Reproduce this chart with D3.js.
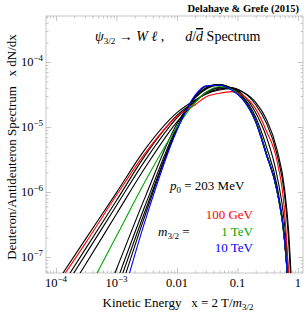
<!DOCTYPE html>
<html>
<head>
<meta charset="utf-8">
<script src="https://cdn.jsdelivr.net/npm/d3@7"></script>
<style>
  body { margin: 0; background: #fff; }
  text { font-family: "Liberation Serif", "DejaVu Serif", serif; white-space: pre; }
</style>
</head>
<body>
<div class="graph"></div>
<script>
const w = 307;
const h = 314;
const margin = {top: 16, right: 4, bottom: 41, left: 46};

const xs = [1e-4, 3e-4, 1e-3, 3e-3, 0.01, 0.02, 0.03, 0.05, 0.08, 0.12, 0.2, 0.3, 0.45, 0.6, 0.7, 0.8];

// x dN/dx for each gravitino mass
const red100GeV = [3.5e-8, 1.58e-7, 8.9e-7, 4.0e-6, 1.45e-5, 2.2e-5, 2.9e-5, 3.3e-5, 3.5e-5, 3.1e-5, 1.9e-5, 8.7e-6, 3.0e-6, 5.0e-7, 5.0e-8, 2.5e-9];
const black200GeV = [3.9e-8, 1.82e-7, 9.8e-7, 4.6e-6, 1.66e-5, 2.6e-5, 3.2e-5, 3.7e-5, 3.9e-5, 3.5e-5, 2.4e-5, 1.32e-5, 4.5e-6, 1.12e-6, 2.5e-7, 2.5e-8];
const black300GeV = [2.6e-8, 1.29e-7, 7.4e-7, 3.7e-6, 1.51e-5, 2.5e-5, 3.3e-5, 3.8e-5, 4.0e-5, 3.5e-5, 2.2e-5, 1.15e-5, 3.8e-6, 8.9e-7, 1.78e-7, 1.6e-8];
const black500GeV = [2.1e-8, 1.05e-7, 6.2e-7, 3.1e-6, 1.38e-5, 2.5e-5, 3.4e-5, 4.0e-5, 4.0e-5, 3.2e-5, 1.66e-5, 7.1e-6, 1.78e-6, 3.2e-7, 5.0e-8, 3.2e-9];
const black700GeV = [1.45e-8, 7.4e-8, 4.6e-7, 2.4e-6, 1.2e-5, 2.4e-5, 3.4e-5, 4.0e-5, 3.9e-5, 3.0e-5, 1.41e-5, 5.0e-6, 1.26e-6, 2.0e-7, 3.2e-8, 1.6e-9];
const green1TeV = [3.5e-9, 2.5e-8, 2.1e-7, 1.48e-6, 1.0e-5, 2.4e-5, 3.4e-5, 4.2e-5, 3.8e-5, 2.75e-5, 1.2e-5, 3.8e-6, 1.02e-6, 1.74e-7, 2.5e-8, 1e-9];
const black2TeV = [null, 3.9e-9, 6.5e-8, 8.5e-7, 1.12e-5, 2.8e-5, 3.8e-5, 4.4e-5, 4.0e-5, 2.9e-5, 1.26e-5, 4.0e-6, 1.05e-6, 1.78e-7, 2.5e-8, 1e-9];
const black3TeV = [null, null, 4.1e-8, 6.3e-7, 1.0e-5, 2.9e-5, 3.9e-5, 4.5e-5, 3.9e-5, 2.8e-5, 1.23e-5, 3.9e-6, 1.05e-6, 1.78e-7, 2.5e-8, 1e-9];
const black5TeV = [null, null, 3.0e-8, 5.2e-7, 9.5e-6, 3.0e-5, 4.0e-5, 4.5e-5, 3.8e-5, 2.75e-5, 1.2e-5, 3.8e-6, 1.05e-6, 1.78e-7, 2.5e-8, 1e-9];
const black7TeV = [null, null, 2.0e-8, 4.5e-7, 9.3e-6, 3.0e-5, 4.2e-5, 4.5e-5, 3.8e-5, 2.75e-5, 1.2e-5, 3.8e-6, 1.05e-6, 1.8e-7, 2.5e-8, 1e-9];
const blue10TeV = [null, null, 1.12e-8, 3.7e-7, 8.9e-6, 3.1e-5, 4.3e-5, 4.4e-5, 3.7e-5, 2.7e-5, 1.2e-5, 3.7e-6, 1.05e-6, 1.8e-7, 2.5e-8, 1e-9];

const xMajor = [1e-4, 1e-3, 1e-2, 1e-1, 1];
const xLabels = [["10", "\u22124"], ["10", "\u22123"], ["0.01"], ["0.1"], ["1"]];
const yMajor = [1e-7, 1e-6, 1e-5, 1e-4];
const yLabels = [["10", "\u22127"], ["10", "\u22126"], ["10", "\u22125"], ["10", "\u22124"]];

const legendMasses = ["100 GeV", "1 TeV", "10 TeV"];
const legendColors = ["#ff0000", "#00aa00", "#0000ff"];

const series = [
  {y: black200GeV, c: "#000"}, {y: black300GeV, c: "#000"}, {y: black500GeV, c: "#000"},
  {y: black700GeV, c: "#000"}, {y: black2TeV, c: "#000"}, {y: black3TeV, c: "#000"},
  {y: black5TeV, c: "#000"}, {y: black7TeV, c: "#000"},
  {y: red100GeV, c: legendColors[0]}, {y: green1TeV, c: legendColors[1]}, {y: blue10TeV, c: legendColors[2]}
];

const x = d3.scaleLog().domain([6.84e-5, 1.21]).range([margin.left, w - margin.right]);
const y = d3.scaleLog().domain([5.68e-8, 5.1e-4]).range([h - margin.bottom, margin.top]);

const minors = (dom) => {
  const out = [];
  for (let e = -9; e <= 1; e++) {
    for (let k = 2; k <= 9; k++) {
      const v = k * Math.pow(10, e);
      if (v >= dom[0] && v <= dom[1]) out.push(v);
    }
  }
  return out;
};

const canvas = d3.select('.graph')
  .append("svg")
  .attr("width", w)
  .attr("height", h);

const x0 = margin.left, x1 = w - margin.right, y0 = margin.top, y1 = h - margin.bottom;

canvas.append("defs").append("clipPath").attr("id", "clip")
  .append("rect").attr("x", x0).attr("y", y0).attr("width", x1 - x0).attr("height", y1 - y0);

// ticks, inward on all four sides
const tickColor = "#b8b8b8";
function ticks(axis, tr, vals, size) {
  const g = canvas.append("g").attr("transform", tr)
    .call(axis.tickValues(vals).tickSize(size).tickSizeOuter(0).tickFormat(""));
  g.select(".domain").remove();
  g.selectAll("line").attr("stroke", tickColor).attr("stroke-width", 0.8);
}
ticks(d3.axisBottom(x), `translate(0,${y1})`, xMajor, -5);
ticks(d3.axisBottom(x), `translate(0,${y1})`, minors(x.domain()), -2.5);
ticks(d3.axisTop(x), `translate(0,${y0})`, xMajor, -5);
ticks(d3.axisTop(x), `translate(0,${y0})`, minors(x.domain()), -2.5);
ticks(d3.axisLeft(y), `translate(${x0},0)`, yMajor, -5);
ticks(d3.axisLeft(y), `translate(${x0},0)`, minors(y.domain()), -2.5);
ticks(d3.axisRight(y), `translate(${x1},0)`, yMajor, -5);
ticks(d3.axisRight(y), `translate(${x1},0)`, minors(y.domain()), -2.5);

canvas.append("rect")
  .attr("x", x0).attr("y", y0).attr("width", x1 - x0).attr("height", y1 - y0)
  .attr("fill", "none").attr("stroke", tickColor).attr("stroke-width", 0.8);

// tick labels
function label(sel, parts) {
  sel.append("tspan").text(parts[0]);
  if (parts[1]) sel.append("tspan").attr("dy", -5).style("font-size", "9px").text(parts[1]);
}
xMajor.forEach((v, i) => {
  canvas.append("text").attr("x", x(v)).attr("y", 287)
    .attr("text-anchor", "middle").style("font-size", "12.5px")
    .call(label, xLabels[i]);
});
yMajor.forEach((v, i) => {
  canvas.append("text").attr("x", 43).attr("y", y(v) + 4)
    .attr("text-anchor", "end").style("font-size", "12.5px")
    .call(label, yLabels[i]);
});

// curves
const line = d3.line()
  .defined(d => d[1] != null)
  .x(d => x(d[0]))
  .y(d => y(d[1]))
  .curve(d3.curveMonotoneX);

canvas.append("g").attr("clip-path", "url(#clip)")
  .selectAll("path")
  .data(series)
  .enter().append("path")
  .attr("d", s => line(xs.map((v, i) => [v, s.y[i]])))
  .attr("fill", "none")
  .attr("stroke", s => s.c)
  .attr("stroke-width", 1.1);

// axis titles
const xt = canvas.append("text").attr("x", 178).attr("y", 307)
  .attr("text-anchor", "middle").style("font-size", "13px");
xt.append("tspan").text("Kinetic Energy   x = 2 T/");
xt.append("tspan").style("font-style", "italic").text("m");
xt.append("tspan").attr("dy", 3).style("font-size", "9px").text("3/2");

canvas.append("text")
  .attr("transform", "translate(16,147) rotate(-90)")
  .attr("text-anchor", "middle").style("font-size", "13px")
  .text("Deuteron/Antideuteron Spectrum   x dN/dx");

canvas.append("text").attr("x", 299).attr("y", 12)
  .attr("text-anchor", "end").style("font-size", "10.5px").style("font-weight", "bold")
  .text("Delahaye & Grefe (2015)");

// inner title
const tt = canvas.append("text").attr("x", 95).attr("y", 41).style("font-size", "14px");
tt.append("tspan").style("font-style", "italic").text("\u03c8");
tt.append("tspan").attr("dy", 3).style("font-size", "9px").text("3/2");
tt.append("tspan").attr("dy", -3).text(" \u2192 ");
tt.append("tspan").style("font-style", "italic").text("W \u2113");
tt.append("tspan").text(" ,      ");
tt.append("tspan").style("font-style", "italic").text("d");
tt.append("tspan").text("/");
tt.append("tspan").style("font-style", "italic").style("text-decoration", "overline").text("d");
tt.append("tspan").text(" Spectrum");

const pt = canvas.append("text").attr("x", 170).attr("y", 190).style("font-size", "13px");
pt.append("tspan").style("font-style", "italic").text("p");
pt.append("tspan").attr("dy", 3).style("font-size", "9px").text("0");
pt.append("tspan").attr("dy", -3).text(" = 203 MeV");

const mt = canvas.append("text").attr("x", 158).attr("y", 236).style("font-size", "13px");
mt.append("tspan").style("font-style", "italic").text("m");
mt.append("tspan").attr("dy", 3).style("font-size", "9px").text("3/2");
mt.append("tspan").attr("dy", -3).text(" =");

legendMasses.forEach((m, i) => {
  canvas.append("text").attr("x", 253).attr("y", 219 + i * 16.5)
    .attr("text-anchor", "end").style("font-size", "13px")
    .attr("fill", legendColors[i]).text(m);
});
</script>
</body>
</html>
